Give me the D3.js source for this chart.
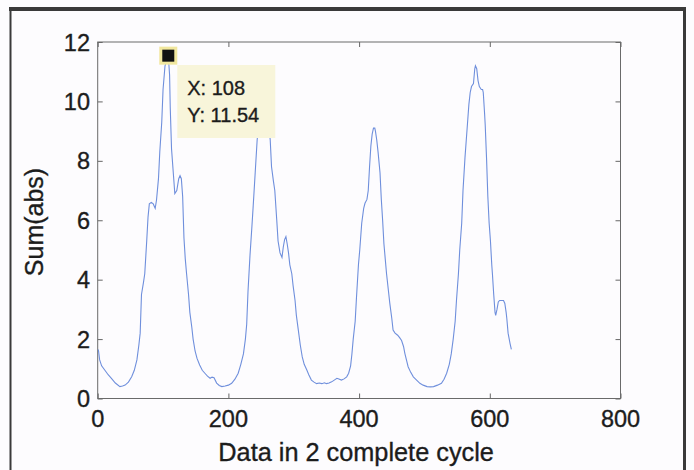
<!DOCTYPE html>
<html>
<head>
<meta charset="utf-8">
<script src="https://d3js.org/d3.v7.min.js"></script>
<style>
  body { margin: 0; background: #fdfcfe; }
  text { font-family: "Liberation Sans", Arial, sans-serif; fill: #1c1c1c; stroke: #1c1c1c; stroke-width: 0.35; }
</style>
</head>
<body>
<svg></svg>
<script>
// sample index and sum(abs)
var xs = [1,3,6,11,16,21,27,34,38,42,47,52,56,60,63,65,67,70,72,75,77,79,82,85,88,90,93,95,98,100,103,106,108,110,111,113,116,118,121,124,126,128,130,132,134,136,139,141,144,146,149,152,156,160,164,168,172,175,178,182,186,190,195,200,205,210,215,219,223,226,228,230,233,236,238,241,244,247,250,254,258,261,264,266,269,271,274,276,279,282,284,286,288,290,292,294,297,299,302,304,307,310,313,316,320,323,327,331,335,339,343,347,350,354,358,362,366,369,373,377,381,384,387,389,391,394,396,399,401,404,407,409,412,414,416,418,420,422,424,425,427,429,432,434,436,438,440,442,445,447,450,452,455,459,462,465,468,470,473,475,479,483,488,493,498,504,509,514,520,526,530,534,538,541,544,547,549,552,554,557,559,562,564,566,568,570,572,575,577,578,580,582,584,587,589,590,592,593,595,597,599,601,603,604,606,608,609,611,613,615,618,621,623,625,626,628,631,633];
var ys = [1.65,1.3,1.1,0.95,0.8,0.68,0.52,0.4,0.42,0.45,0.55,0.73,0.95,1.3,1.8,2.2,3.5,3.9,4.2,5.3,6.1,6.55,6.6,6.55,6.4,6.68,7.4,8.3,9.3,10.4,11.2,11.4,11.54,10.9,9.8,8.4,7.5,6.9,7.0,7.4,7.5,7.4,6.8,5.4,4.7,4.2,3.5,2.9,2.4,2.0,1.6,1.35,1.13,0.95,0.85,0.75,0.68,0.72,0.7,0.52,0.44,0.4,0.42,0.45,0.51,0.65,0.85,1.15,1.5,2.0,2.5,3.6,4.8,5.8,6.5,7.6,8.7,9.3,9.8,10.1,9.9,9.4,8.7,7.8,7.3,7.0,6.0,5.3,4.9,4.75,5.1,5.35,5.45,5.2,4.9,4.5,4.2,3.8,3.3,2.8,2.3,1.8,1.4,1.15,0.96,0.8,0.62,0.55,0.5,0.52,0.5,0.53,0.5,0.52,0.56,0.62,0.68,0.66,0.62,0.66,0.73,0.85,1.1,1.5,2.0,2.6,3.4,4.5,5.0,5.9,6.4,6.57,6.7,7.0,7.8,8.5,8.9,9.1,9.1,9.0,8.7,8.3,7.6,6.7,6.0,5.2,4.7,4.2,3.6,3.2,2.7,2.3,2.2,2.13,2.05,1.95,1.75,1.52,1.25,1.07,0.88,0.73,0.62,0.51,0.45,0.4,0.39,0.4,0.45,0.51,0.65,0.85,1.15,1.5,2.0,2.6,3.3,4.2,5.0,5.9,7.0,8.1,8.7,9.3,9.9,10.3,10.5,10.6,11.1,11.2,11.1,10.7,10.5,10.4,10.4,10.3,9.6,9.2,8.1,6.8,5.9,5.3,4.5,4.2,3.5,2.9,2.8,3.0,3.25,3.3,3.3,3.3,3.2,2.9,2.7,2.2,1.85,1.65];

var xTicks = [0, 200, 400, 600, 800];
var yTicks = [0, 2, 4, 6, 8, 10, 12];
var tipPoint = { x: 108, y: 11.54 };   // data cursor
var xLabel = "Data in 2 complete cycle";
var yLabel = "Sum(abs)";

var width = 694, height = 470;
var plotLeft = 97.7, plotRight = 620.5, plotTop = 42, plotBottom = 398.5;

var svg = d3.select("svg")
    .attr("width", width)
    .attr("height", height);

var x = d3.scaleLinear().domain([0, 800]).range([plotLeft, plotRight]);
var y = d3.scaleLinear().domain([0, 12]).range([plotBottom, plotTop]);

// figure frame (scanned, bottom edge is cut off)
svg.append("line").attr("x1", 9).attr("x2", 686).attr("y1", 9).attr("y2", 9)
   .attr("stroke", "#3a3a3a").attr("stroke-width", 4);
svg.append("line").attr("x1", 10.5).attr("x2", 10.5).attr("y1", 7).attr("y2", 470)
   .attr("stroke", "#3a3a3a").attr("stroke-width", 2);
svg.append("line").attr("x1", 684.5).attr("x2", 684.5).attr("y1", 7).attr("y2", 470)
   .attr("stroke", "#3a3a3a").attr("stroke-width", 3);

// axes box with inward ticks on all four sides
function styleAxis(g) {
  g.select(".domain").remove();
  g.selectAll(".tick line").attr("stroke", "#666");
  g.selectAll("text").remove();
}
svg.append("g").attr("transform", "translate(0," + plotBottom + ")")
   .call(d3.axisBottom(x).tickValues(xTicks).tickSize(-5)).call(styleAxis);
svg.append("g").attr("transform", "translate(0," + plotTop + ")")
   .call(d3.axisTop(x).tickValues(xTicks).tickSize(-5)).call(styleAxis);
svg.append("g").attr("transform", "translate(" + plotLeft + ",0)")
   .call(d3.axisLeft(y).tickValues(yTicks).tickSize(-5)).call(styleAxis);
svg.append("g").attr("transform", "translate(" + plotRight + ",0)")
   .call(d3.axisRight(y).tickValues(yTicks).tickSize(-5)).call(styleAxis);

svg.append("rect")
   .attr("x", plotLeft).attr("y", plotTop)
   .attr("width", plotRight - plotLeft).attr("height", plotBottom - plotTop)
   .attr("fill", "none").attr("stroke", "#6a6a6a").attr("stroke-width", 1);

// tick labels
svg.selectAll(".xt").data(xTicks).enter().append("text")
   .attr("x", d => x(d)).attr("y", 427)
   .attr("text-anchor", "middle").attr("font-size", 23.5)
   .text(d => d);
svg.selectAll(".yt").data(yTicks).enter().append("text")
   .attr("x", 90).attr("y", d => y(d) + 8.5)
   .attr("text-anchor", "end").attr("font-size", 23.5)
   .text(d => d);

// axis labels
svg.append("text").attr("x", (plotLeft + plotRight) / 2 - 3).attr("y", 461)
   .attr("text-anchor", "middle").attr("font-size", 25.3).text(xLabel);
svg.append("text").attr("transform", "translate(43,222) rotate(-90)")
   .attr("text-anchor", "middle").attr("font-size", 25).text(yLabel);

// the curve
var line = d3.line().x(d => x(d[0])).y(d => y(d[1]));
svg.append("path")
   .datum(d3.zip(xs, ys))
   .attr("d", line)
   .attr("fill", "none")
   .attr("stroke", "#6f8fdc")
   .attr("stroke-width", 1.1);

// data tip box
var tx = x(tipPoint.x) + 9, ty = 65;
svg.append("rect")
   .attr("x", tx).attr("y", ty).attr("width", 98).attr("height", 73)
   .attr("fill", "#f8f5da");
svg.append("text").attr("x", tx + 10).attr("y", ty + 30)
   .attr("font-size", 20).text("X: " + tipPoint.x);
svg.append("text").attr("x", tx + 10).attr("y", ty + 57)
   .attr("font-size", 20).text("Y: " + tipPoint.y);

svg.append("rect")
   .attr("x", x(tipPoint.x) - 7.5).attr("y", y(tipPoint.y) - 7.5)
   .attr("width", 15).attr("height", 15)
   .attr("fill", "#111")
   .attr("stroke", "#f1e79e").attr("stroke-width", 3);
</script>
</body>
</html>
